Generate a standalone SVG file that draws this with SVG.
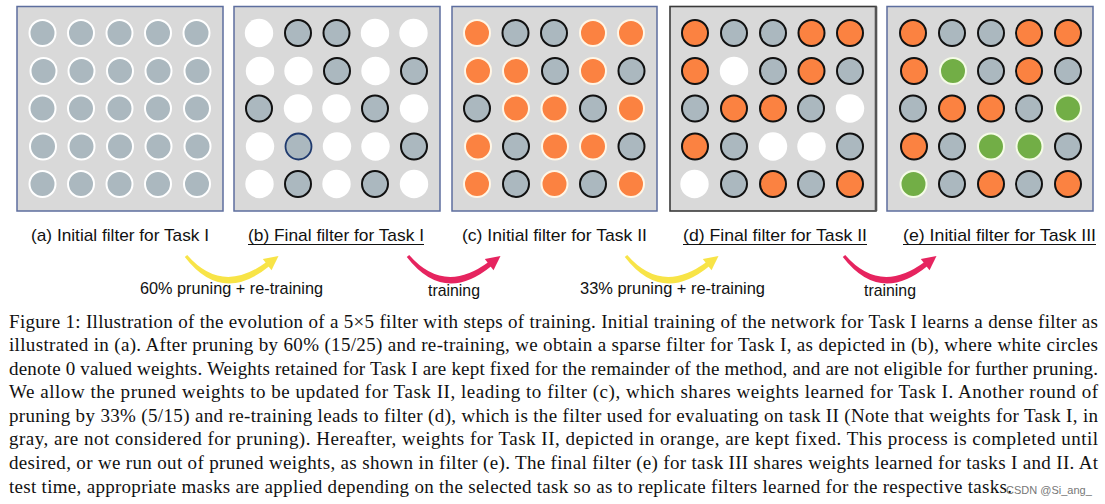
<svg xmlns="http://www.w3.org/2000/svg" xmlns:xlink="http://www.w3.org/1999/xlink" width="1105" height="504" viewBox="0 0 1105 504">
<style>
  .box{fill:#d9d9d9;stroke:#5d6e9e;stroke-width:1.5}
  .boxd{fill:#d9d9d9;stroke:#3a3a3a;stroke-width:1.6}
  .g{fill:#abb8bf;stroke:#ffffff;stroke-width:2}
  .gk{fill:#abb8bf;stroke:#111111;stroke-width:2}
  .gb{fill:#abb8bf;stroke:#1f3a6e;stroke-width:1.8}
  .w{fill:#ffffff}
  .o{fill:#fb8241;stroke:#fff6e6;stroke-width:2}
  .ok{fill:#fb8241;stroke:#111111;stroke-width:2}
  .gr{fill:#72ae46;stroke:#f4fbe6;stroke-width:2}
  .lab{font-family:"Liberation Sans",Arial,sans-serif;font-size:17px;fill:#111}
  .ul{stroke:#111;stroke-width:1.1}
  .cap{font-family:"Liberation Serif","Times New Roman",serif;font-size:19px;fill:#111}
  .wm{font-family:"Liberation Sans",Arial,sans-serif;font-size:11px;fill:#777}
</style>
<defs>
  <g id="arrowShape">
    <path d="M184.8,257 Q222,305 269.5,266 L266.5,262 Q222,295 187.2,255 Z"/>
    <path d="M278.5,256 L271.5,270.3 L262.8,259 Z"/>
  </g>
</defs>

<g id="node-a">
  <g transform="translate(17,6.5)">
    <rect class="box" x="0" y="0" width="206" height="204.5"/>
    <circle class="g" cx="25.5" cy="26.5" r="13"/><circle class="g" cx="64" cy="26.5" r="13"/><circle class="g" cx="102.5" cy="26.5" r="13"/><circle class="g" cx="141" cy="26.5" r="13"/><circle class="g" cx="179.5" cy="26.5" r="13"/>
    <circle class="g" cx="26.5" cy="64.5" r="13"/><circle class="g" cx="64.5" cy="64.5" r="13"/><circle class="g" cx="103" cy="64.5" r="13"/><circle class="g" cx="141.5" cy="64.5" r="13"/><circle class="g" cx="180.5" cy="64.5" r="13"/>
    <circle class="g" cx="25.5" cy="102" r="13"/><circle class="g" cx="64" cy="102" r="13"/><circle class="g" cx="102.5" cy="102" r="13"/><circle class="g" cx="141" cy="102" r="13"/><circle class="g" cx="180" cy="102" r="13"/>
    <circle class="g" cx="26" cy="140" r="13"/><circle class="g" cx="64.5" cy="140" r="13"/><circle class="g" cx="103" cy="140" r="13"/><circle class="g" cx="141.5" cy="140" r="13"/><circle class="g" cx="180.5" cy="140" r="13"/>
    <circle class="g" cx="25.5" cy="177.5" r="13"/><circle class="g" cx="64" cy="177.5" r="13"/><circle class="g" cx="102.5" cy="177.5" r="13"/><circle class="g" cx="141" cy="177.5" r="13"/><circle class="g" cx="180" cy="177.5" r="13"/>
  </g>
  <text class="lab" x="31" y="241" textLength="178" lengthAdjust="spacingAndGlyphs">(a) Initial filter for Task I</text>
</g>

<g id="node-b">
  <g transform="translate(234,6.5)">
    <rect class="box" x="0" y="0" width="206" height="204.5"/>
    <circle class="w" cx="25" cy="26.5" r="14.2"/><circle class="gk" cx="64" cy="26.5" r="13"/><circle class="gk" cx="102.5" cy="26.5" r="13"/><circle class="w" cx="141" cy="26.5" r="14.2"/><circle class="w" cx="179.5" cy="26.5" r="14.2"/>
    <circle class="w" cx="26" cy="64.5" r="14.2"/><circle class="w" cx="64.5" cy="64.5" r="14.2"/><circle class="gk" cx="103" cy="64.5" r="13"/><circle class="w" cx="141.5" cy="64.5" r="14.2"/><circle class="gk" cx="180" cy="64.5" r="13"/>
    <circle class="gk" cx="25" cy="102" r="13"/><circle class="w" cx="64" cy="102" r="14.2"/><circle class="w" cx="102.5" cy="102" r="14.2"/><circle class="gk" cx="141" cy="102" r="13"/><circle class="w" cx="180" cy="102" r="14.2"/>
    <circle class="w" cx="26" cy="140" r="14.2"/><circle class="gb" cx="64.5" cy="140" r="13"/><circle class="w" cx="103" cy="140" r="14.2"/><circle class="w" cx="141.5" cy="140" r="14.2"/><circle class="gk" cx="180" cy="140" r="13"/>
    <circle class="w" cx="25.5" cy="177.5" r="14.2"/><circle class="gk" cx="64" cy="177.5" r="13"/><circle class="w" cx="102.5" cy="177.5" r="14.2"/><circle class="gk" cx="141" cy="177.5" r="13"/><circle class="w" cx="180" cy="177.5" r="14.2"/>
  </g>
  <text class="lab" x="248" y="241" textLength="176" lengthAdjust="spacingAndGlyphs">(b) Final filter for Task I</text>
  <line class="ul" x1="248" y1="244.5" x2="424" y2="244.5"/>
</g>

<g id="node-c">
  <g transform="translate(452,6.5)">
    <rect class="box" x="0" y="0" width="205" height="204.5"/>
    <circle class="o" cx="25" cy="26.5" r="13"/><circle class="gk" cx="63.5" cy="26.5" r="13"/><circle class="gk" cx="102" cy="26.5" r="13"/><circle class="o" cx="141" cy="26.5" r="13"/><circle class="o" cx="179" cy="26.5" r="13"/>
    <circle class="o" cx="26" cy="64.5" r="13"/><circle class="o" cx="64" cy="64.5" r="13"/><circle class="gk" cx="103" cy="64.5" r="13"/><circle class="o" cx="141" cy="64.5" r="13"/><circle class="gk" cx="179.5" cy="64.5" r="13"/>
    <circle class="gk" cx="25" cy="102" r="13"/><circle class="o" cx="64" cy="102" r="13"/><circle class="o" cx="102.5" cy="102" r="13"/><circle class="gk" cx="141" cy="102" r="13"/><circle class="o" cx="179" cy="102" r="13"/>
    <circle class="o" cx="26" cy="140" r="13"/><circle class="gk" cx="64" cy="140" r="13"/><circle class="o" cx="103" cy="140" r="13"/><circle class="o" cx="141" cy="140" r="13"/><circle class="gk" cx="179.5" cy="140" r="13"/>
    <circle class="o" cx="25" cy="177.5" r="13"/><circle class="gk" cx="64" cy="177.5" r="13"/><circle class="o" cx="102.5" cy="177.5" r="13"/><circle class="gk" cx="141" cy="177.5" r="13"/><circle class="o" cx="179" cy="177.5" r="13"/>
  </g>
  <text class="lab" x="462" y="241" textLength="185" lengthAdjust="spacingAndGlyphs">(c) Initial filter for Task II</text>
</g>

<g id="node-d">
  <g transform="translate(670,6.5)">
    <rect class="boxd" x="0" y="0" width="206" height="204.5"/>
    <line x1="206" y1="0" x2="206" y2="204.5" stroke="#555" stroke-width="2.6"/>
    <circle class="ok" cx="25" cy="26.5" r="13"/><circle class="gk" cx="64" cy="26.5" r="13"/><circle class="gk" cx="103" cy="26.5" r="13"/><circle class="ok" cx="141.5" cy="26.5" r="13"/><circle class="ok" cx="180" cy="26.5" r="13"/>
    <circle class="ok" cx="25" cy="64.5" r="13"/><circle class="w" cx="64" cy="64.5" r="14.2"/><circle class="gk" cx="103" cy="64.5" r="13"/><circle class="ok" cx="141.5" cy="64.5" r="13"/><circle class="gk" cx="180" cy="64.5" r="13"/>
    <circle class="gk" cx="25" cy="102" r="13"/><circle class="ok" cx="64" cy="102" r="13"/><circle class="ok" cx="103" cy="102" r="13"/><circle class="gk" cx="141" cy="102" r="13"/><circle class="w" cx="180" cy="102" r="14.2"/>
    <circle class="ok" cx="25" cy="140" r="13"/><circle class="gk" cx="64" cy="140" r="13"/><circle class="w" cx="103" cy="140" r="14.2"/><circle class="w" cx="141.5" cy="140" r="14.2"/><circle class="gk" cx="180" cy="140" r="13"/>
    <circle class="w" cx="24.5" cy="177.5" r="14.2"/><circle class="gk" cx="64" cy="177.5" r="13"/><circle class="ok" cx="103" cy="177.5" r="13"/><circle class="gk" cx="141" cy="177.5" r="13"/><circle class="ok" cx="180" cy="177.5" r="13"/>
  </g>
  <text class="lab" x="683" y="241" textLength="184" lengthAdjust="spacingAndGlyphs">(d) Final filter for Task II</text>
  <line class="ul" x1="683" y1="244.5" x2="867" y2="244.5"/>
</g>

<g id="node-e">
  <g transform="translate(887,6.5)">
    <rect class="box" x="0" y="0" width="206" height="204.5"/>
    <circle class="ok" cx="26" cy="26.5" r="13"/><circle class="gk" cx="65" cy="26.5" r="13"/><circle class="gk" cx="104" cy="26.5" r="13"/><circle class="ok" cx="142" cy="26.5" r="13"/><circle class="ok" cx="181" cy="26.5" r="13"/>
    <circle class="ok" cx="27" cy="64.5" r="13"/><circle class="gr" cx="66" cy="64.5" r="13"/><circle class="gk" cx="104" cy="64.5" r="13"/><circle class="ok" cx="142" cy="64.5" r="13"/><circle class="gk" cx="181" cy="64.5" r="13"/>
    <circle class="gk" cx="26" cy="102" r="13"/><circle class="ok" cx="65" cy="102" r="13"/><circle class="ok" cx="104" cy="102" r="13"/><circle class="gk" cx="142" cy="102" r="13"/><circle class="gr" cx="181" cy="102" r="13"/>
    <circle class="ok" cx="27" cy="140" r="13"/><circle class="gk" cx="65" cy="140" r="13"/><circle class="gr" cx="104" cy="140" r="13"/><circle class="gr" cx="142.5" cy="140" r="13"/><circle class="gk" cx="181" cy="140" r="13"/>
    <circle class="gr" cx="26.5" cy="177.5" r="13"/><circle class="gk" cx="65" cy="177.5" r="13"/><circle class="ok" cx="104" cy="177.5" r="13"/><circle class="gk" cx="142" cy="177.5" r="13"/><circle class="ok" cx="181" cy="177.5" r="13"/>
  </g>
  <text class="lab" x="903" y="241" textLength="193" lengthAdjust="spacingAndGlyphs">(e) Initial filter for Task III</text>
  <line class="ul" x1="903" y1="244.5" x2="1096" y2="244.5"/>
</g>

<g id="connectors">
  <use xlink:href="#arrowShape" fill="#f8e447"/>
  <use xlink:href="#arrowShape" fill="#e6245f" transform="translate(222,0)"/>
  <use xlink:href="#arrowShape" fill="#f8e447" transform="translate(440,0)"/>
  <use xlink:href="#arrowShape" fill="#e6245f" transform="translate(658,0)"/>
  <text class="lab" x="140" y="294" textLength="183" lengthAdjust="spacingAndGlyphs">60% pruning + re-training</text>
  <text class="lab" x="428" y="296" textLength="52" lengthAdjust="spacingAndGlyphs">training</text>
  <text class="lab" x="580" y="294" textLength="185" lengthAdjust="spacingAndGlyphs">33% pruning + re-training</text>
  <text class="lab" x="864" y="296" textLength="52" lengthAdjust="spacingAndGlyphs">training</text>
</g>

<g id="caption">
  <text class="cap" x="9" y="327.5" textLength="1089" lengthAdjust="spacing">Figure 1: Illustration of the evolution of a 5×5 filter with steps of training. Initial training of the network for Task I learns a dense filter as</text>
  <text class="cap" x="9" y="351" textLength="1089" lengthAdjust="spacing">illustrated in (a). After pruning by 60% (15/25) and re-training, we obtain a sparse filter for Task I, as depicted in (b), where white circles</text>
  <text class="cap" x="9" y="374.6" textLength="1089" lengthAdjust="spacing">denote 0 valued weights. Weights retained for Task I are kept fixed for the remainder of the method, and are not eligible for further pruning.</text>
  <text class="cap" x="9" y="398.2" textLength="1089" lengthAdjust="spacing">We allow the pruned weights to be updated for Task II, leading to filter (c), which shares weights learned for Task I. Another round of</text>
  <text class="cap" x="9" y="421.8" textLength="1089" lengthAdjust="spacing">pruning by 33% (5/15) and re-training leads to filter (d), which is the filter used for evaluating on task II (Note that weights for Task I, in</text>
  <text class="cap" x="9" y="445.4" textLength="1089" lengthAdjust="spacing">gray, are not considered for pruning). Hereafter, weights for Task II, depicted in orange, are kept fixed. This process is completed until</text>
  <text class="cap" x="9" y="469" textLength="1089" lengthAdjust="spacing">desired, or we run out of pruned weights, as shown in filter (e). The final filter (e) for task III shares weights learned for tasks I and II. At</text>
  <text class="cap" x="9" y="492.6" textLength="1003" lengthAdjust="spacing">test time, appropriate masks are applied depending on the selected task so as to replicate filters learned for the respective tasks.</text>
  <text class="wm" x="1006" y="494">CSDN @Si_ang_</text>
</g>
</svg>
